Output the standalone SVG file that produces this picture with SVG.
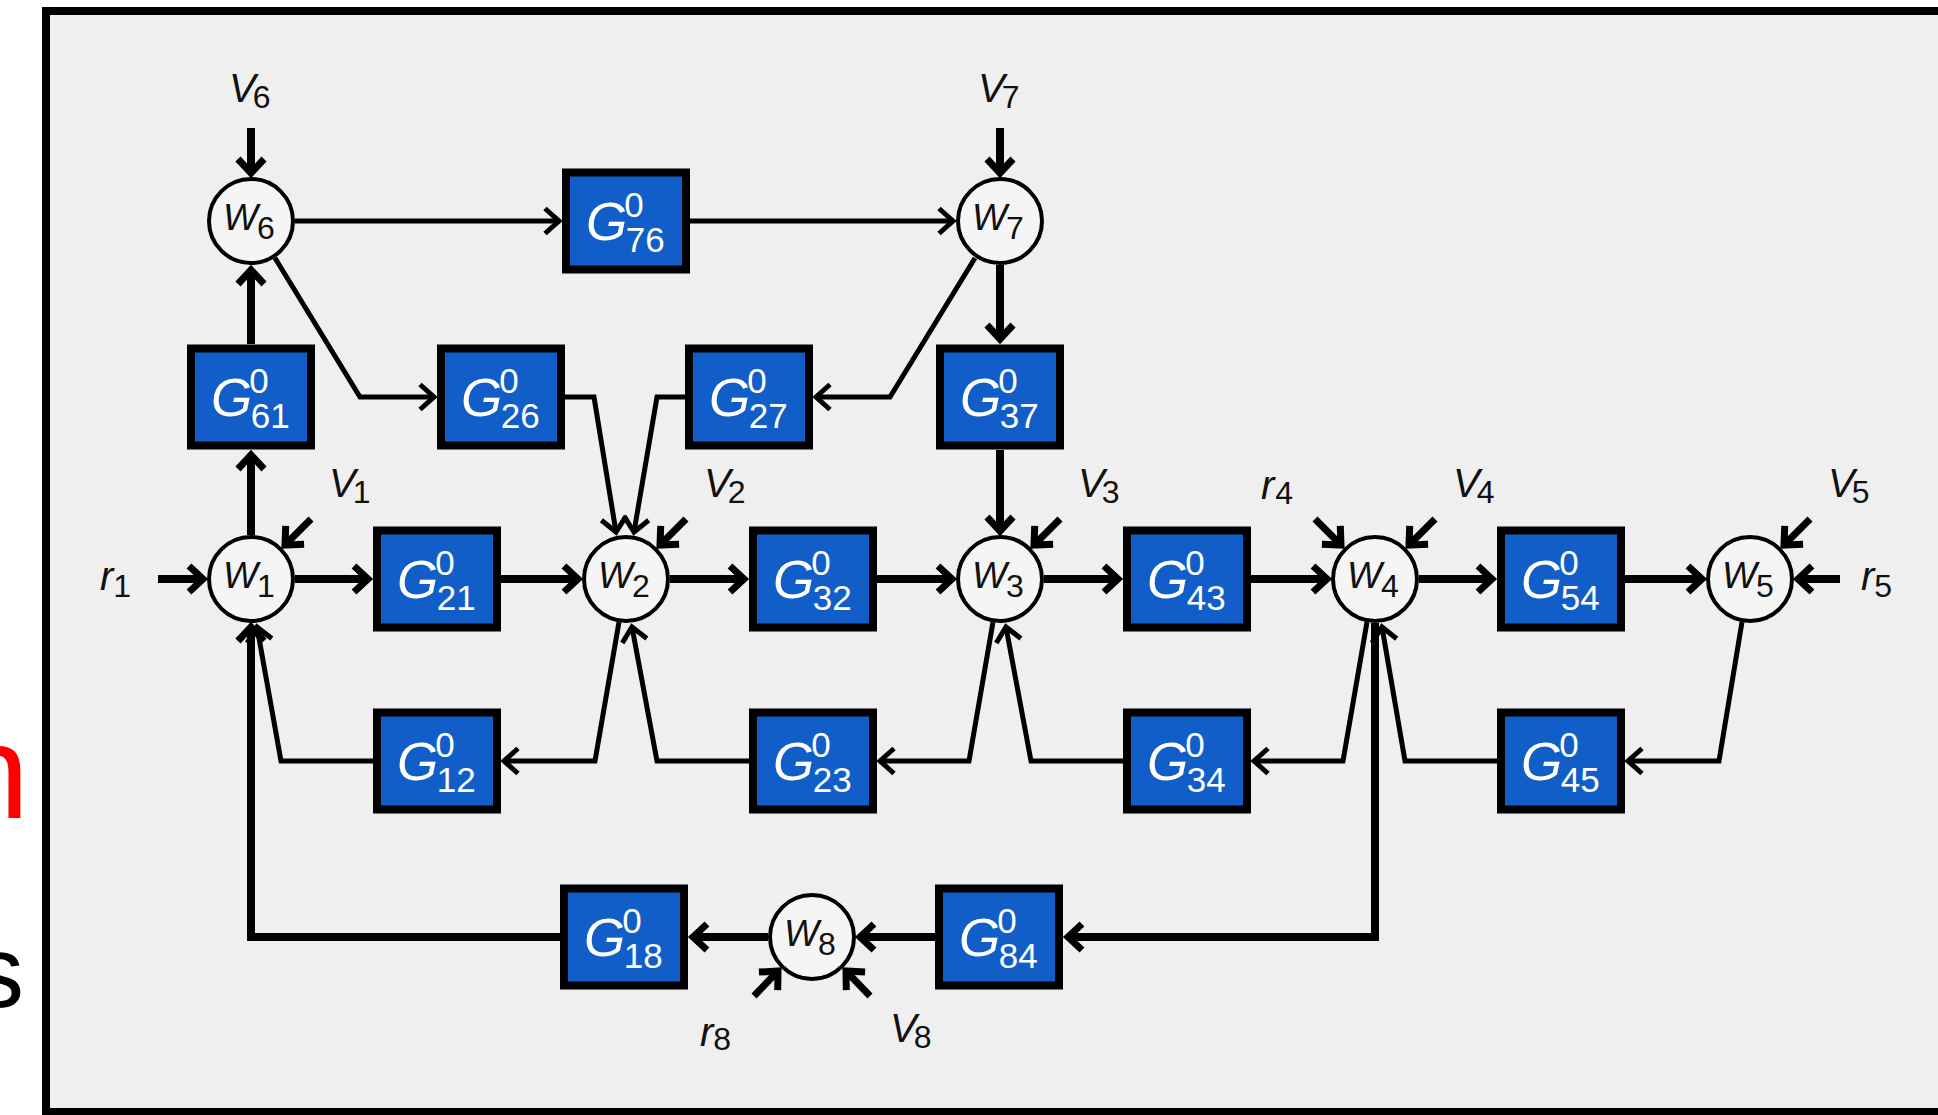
<svg xmlns="http://www.w3.org/2000/svg" width="1938" height="1115" viewBox="0 0 1938 1115">
<defs>
<style>
.bg{fill:#ffffff}
.frame{fill:#efefef;stroke:#000;stroke-width:8}
.box rect{fill:#115ec8;stroke:#000;stroke-width:8}
.node circle{fill:#f5f5f5;stroke:#000;stroke-width:4}
.g{font-family:"Liberation Sans",Arial,sans-serif;font-style:italic;font-size:53px;fill:#fff}
.gi{font-style:normal;font-size:35px}
.w{font-family:"Liberation Sans",Arial,sans-serif;font-style:italic;font-size:37px;fill:#111}
.lbl{font-family:"Liberation Sans",Arial,sans-serif;font-style:italic;font-size:40px;fill:#111}
.sub{font-style:normal;font-size:32px}
.thick{fill:none;stroke:#000;stroke-width:8;marker-end:url(#aK)}
.short{fill:none;stroke:#000;stroke-width:7;marker-end:url(#aK)}
.thin{fill:none;stroke:#000;stroke-width:5;marker-end:url(#aN)}
.frag{font-family:"Liberation Sans",Arial,sans-serif;text-anchor:end}
</style>
<marker id="aK" markerUnits="userSpaceOnUse" viewBox="-20 -20 40 40" markerWidth="40" markerHeight="40" refX="0" refY="0" orient="auto">
<path d="M-14,-13 L0,0 L-14,13" fill="none" stroke="#000" stroke-width="7"/>
</marker>
<marker id="aN" markerUnits="userSpaceOnUse" viewBox="-20 -20 40 40" markerWidth="40" markerHeight="40" refX="0" refY="0" orient="auto">
<path d="M-14,-12.5 L0,0 L-14,12.5" fill="none" stroke="#000" stroke-width="5"/>
</marker>
</defs>

<rect class="bg" x="0" y="0" width="1938" height="1115"/>
<rect class="frame" x="46" y="11" width="1910" height="1101"/>

<text class="frag" x="29" y="818" font-size="134" fill="#ff0000">n</text>
<text class="frag" x="24" y="1007" font-size="102" fill="#000">s</text>

<!-- summation nodes -->
<g id="w1" class="node"><circle cx="251" cy="579" r="42"/><text class="w" x="223" y="588">W<tspan class="sub" dx="-1" dy="9">1</tspan></text></g>
<g id="w2" class="node"><circle cx="626" cy="579" r="42"/><text class="w" x="598" y="588">W<tspan class="sub" dx="-1" dy="9">2</tspan></text></g>
<g id="w3" class="node"><circle cx="1000" cy="579" r="42"/><text class="w" x="972" y="588">W<tspan class="sub" dx="-1" dy="9">3</tspan></text></g>
<g id="w4" class="node"><circle cx="1375" cy="579" r="42"/><text class="w" x="1347" y="588">W<tspan class="sub" dx="-1" dy="9">4</tspan></text></g>
<g id="w5" class="node"><circle cx="1750" cy="579" r="42"/><text class="w" x="1722" y="588">W<tspan class="sub" dx="-1" dy="9">5</tspan></text></g>
<g id="w6" class="node"><circle cx="251" cy="221" r="42"/><text class="w" x="223" y="230">W<tspan class="sub" dx="-1" dy="9">6</tspan></text></g>
<g id="w7" class="node"><circle cx="1000" cy="221" r="42"/><text class="w" x="972" y="230">W<tspan class="sub" dx="-1" dy="9">7</tspan></text></g>
<g id="w8" class="node"><circle cx="812" cy="937" r="42"/><text class="w" x="784" y="946">W<tspan class="sub" dx="-1" dy="9">8</tspan></text></g>

<!-- transfer blocks -->
<g id="G76" class="box"><rect x="566" y="172.5" width="120" height="97"/><text class="g" x="586" y="240">G<tspan class="gi" dx="-3" dy="-23">0</tspan><tspan class="gi" dx="-18" dy="35">76</tspan></text></g>
<g id="G61" class="box"><rect x="191" y="348.5" width="120" height="97"/><text class="g" x="211" y="416">G<tspan class="gi" dx="-3" dy="-23">0</tspan><tspan class="gi" dx="-18" dy="35">61</tspan></text></g>
<g id="G26" class="box"><rect x="441" y="348.5" width="120" height="97"/><text class="g" x="461" y="416">G<tspan class="gi" dx="-3" dy="-23">0</tspan><tspan class="gi" dx="-18" dy="35">26</tspan></text></g>
<g id="G27" class="box"><rect x="689" y="348.5" width="120" height="97"/><text class="g" x="709" y="416">G<tspan class="gi" dx="-3" dy="-23">0</tspan><tspan class="gi" dx="-18" dy="35">27</tspan></text></g>
<g id="G37" class="box"><rect x="940" y="348.5" width="120" height="97"/><text class="g" x="960" y="416">G<tspan class="gi" dx="-3" dy="-23">0</tspan><tspan class="gi" dx="-18" dy="35">37</tspan></text></g>
<g id="G21" class="box"><rect x="377" y="530.5" width="120" height="97"/><text class="g" x="397" y="598">G<tspan class="gi" dx="-3" dy="-23">0</tspan><tspan class="gi" dx="-18" dy="35">21</tspan></text></g>
<g id="G32" class="box"><rect x="753" y="530.5" width="120" height="97"/><text class="g" x="773" y="598">G<tspan class="gi" dx="-3" dy="-23">0</tspan><tspan class="gi" dx="-18" dy="35">32</tspan></text></g>
<g id="G43" class="box"><rect x="1127" y="530.5" width="120" height="97"/><text class="g" x="1147" y="598">G<tspan class="gi" dx="-3" dy="-23">0</tspan><tspan class="gi" dx="-18" dy="35">43</tspan></text></g>
<g id="G54" class="box"><rect x="1501" y="530.5" width="120" height="97"/><text class="g" x="1521" y="598">G<tspan class="gi" dx="-3" dy="-23">0</tspan><tspan class="gi" dx="-18" dy="35">54</tspan></text></g>
<g id="G12" class="box"><rect x="377" y="712.5" width="120" height="97"/><text class="g" x="397" y="780">G<tspan class="gi" dx="-3" dy="-23">0</tspan><tspan class="gi" dx="-18" dy="35">12</tspan></text></g>
<g id="G23" class="box"><rect x="753" y="712.5" width="120" height="97"/><text class="g" x="773" y="780">G<tspan class="gi" dx="-3" dy="-23">0</tspan><tspan class="gi" dx="-18" dy="35">23</tspan></text></g>
<g id="G34" class="box"><rect x="1127" y="712.5" width="120" height="97"/><text class="g" x="1147" y="780">G<tspan class="gi" dx="-3" dy="-23">0</tspan><tspan class="gi" dx="-18" dy="35">34</tspan></text></g>
<g id="G45" class="box"><rect x="1501" y="712.5" width="120" height="97"/><text class="g" x="1521" y="780">G<tspan class="gi" dx="-3" dy="-23">0</tspan><tspan class="gi" dx="-18" dy="35">45</tspan></text></g>
<g id="G18" class="box"><rect x="564" y="888.5" width="120" height="97"/><text class="g" x="584" y="956">G<tspan class="gi" dx="-3" dy="-23">0</tspan><tspan class="gi" dx="-18" dy="35">18</tspan></text></g>
<g id="G84" class="box"><rect x="939" y="888.5" width="120" height="97"/><text class="g" x="959" y="956">G<tspan class="gi" dx="-3" dy="-23">0</tspan><tspan class="gi" dx="-18" dy="35">84</tspan></text></g>

<!-- external signal labels -->
<g id="v6"><text class="lbl" x="229" y="102">V<tspan class="sub" dx="-3" dy="6">6</tspan></text></g>
<g id="v7"><text class="lbl" x="978" y="102">V<tspan class="sub" dx="-3" dy="6">7</tspan></text></g>
<g id="v1"><text class="lbl" x="329" y="497">V<tspan class="sub" dx="-3" dy="6">1</tspan></text></g>
<g id="v2"><text class="lbl" x="704" y="497">V<tspan class="sub" dx="-3" dy="6">2</tspan></text></g>
<g id="v3"><text class="lbl" x="1078" y="497">V<tspan class="sub" dx="-3" dy="6">3</tspan></text></g>
<g id="v4"><text class="lbl" x="1453" y="497">V<tspan class="sub" dx="-3" dy="6">4</tspan></text></g>
<g id="v5"><text class="lbl" x="1828" y="497">V<tspan class="sub" dx="-3" dy="6">5</tspan></text></g>
<g id="r4"><text class="lbl" x="1261" y="499">r<tspan class="sub" dx="1" dy="5">4</tspan></text></g>
<g id="r1"><text class="lbl" x="100" y="590">r<tspan class="sub" dx="0" dy="7">1</tspan></text></g>
<g id="r5"><text class="lbl" x="1861" y="590">r<tspan class="sub" dx="0" dy="7">5</tspan></text></g>
<g id="r8"><text class="lbl" x="700" y="1046">r<tspan class="sub" dx="0" dy="4">8</tspan></text></g>
<g id="v8"><text class="lbl" x="890" y="1042">V<tspan class="sub" dx="-3" dy="6">8</tspan></text></g>

<!-- connectors -->
<g id="connectors">
<path class="thick" d="M251,128 L251,173"/>
<path class="thick" d="M1000,128 L1000,173"/>
<path class="thick" d="M251,344 L251,270"/>
<path class="thick" d="M251,535 L251,455"/>
<path class="thick" d="M1000,265 L1000,339"/>
<path class="thick" d="M1000,450 L1000,531"/>
<path class="thick" d="M158,579 L203,579"/>
<path class="thick" d="M295,579 L368,579"/>
<path class="thick" d="M501,579 L578,579"/>
<path class="thick" d="M670,579 L744,579"/>
<path class="thick" d="M877,579 L952,579"/>
<path class="thick" d="M1044,579 L1118,579"/>
<path class="thick" d="M1251,579 L1327,579"/>
<path class="thick" d="M1419,579 L1492,579"/>
<path class="thick" d="M1625,579 L1702,579"/>
<path class="thick" d="M1840,579 L1798,579"/>
<path class="thick" d="M1375,623 L1375,937 L1068,937"/>
<path class="thick" d="M935,937 L860,937"/>
<path class="thick" d="M768,937 L693,937"/>
<path class="thick" d="M560,937 L251,937 L251,627"/>
<path class="short" d="M311,519 L285,545"/>
<path class="short" d="M686,519 L660,545"/>
<path class="short" d="M1060,519 L1034,545"/>
<path class="short" d="M1435,519 L1409,545"/>
<path class="short" d="M1810,519 L1784,545"/>
<path class="short" d="M1315,519 L1341,545"/>
<path class="short" d="M754,996 L778,971"/>
<path class="short" d="M870,996 L846,971"/>
<path class="thin" d="M295,221 L559,221"/>
<path class="thin" d="M690,221 L953,221"/>
<path class="thin" d="M275,258 L360,397 L434,397"/>
<path class="thin" d="M565,397 L594,397 L616,532"/>
<path class="thin" d="M685,397 L657,397 L634,532"/>
<path class="thin" d="M975,258 L890,397 L816,397"/>
<path class="thin" d="M619,622 L595,761 L504,761"/>
<path class="thin" d="M373,761 L281,761 L257,627"/>
<path class="thin" d="M993,622 L969,761 L880,761"/>
<path class="thin" d="M749,761 L657,761 L632,627"/>
<path class="thin" d="M1367,622 L1343,761 L1254,761"/>
<path class="thin" d="M1123,761 L1031,761 L1006,627"/>
<path class="thin" d="M1742,622 L1719,761 L1628,761"/>
<path class="thin" d="M1497,761 L1405,761 L1382,627"/>
</g>
</svg>
